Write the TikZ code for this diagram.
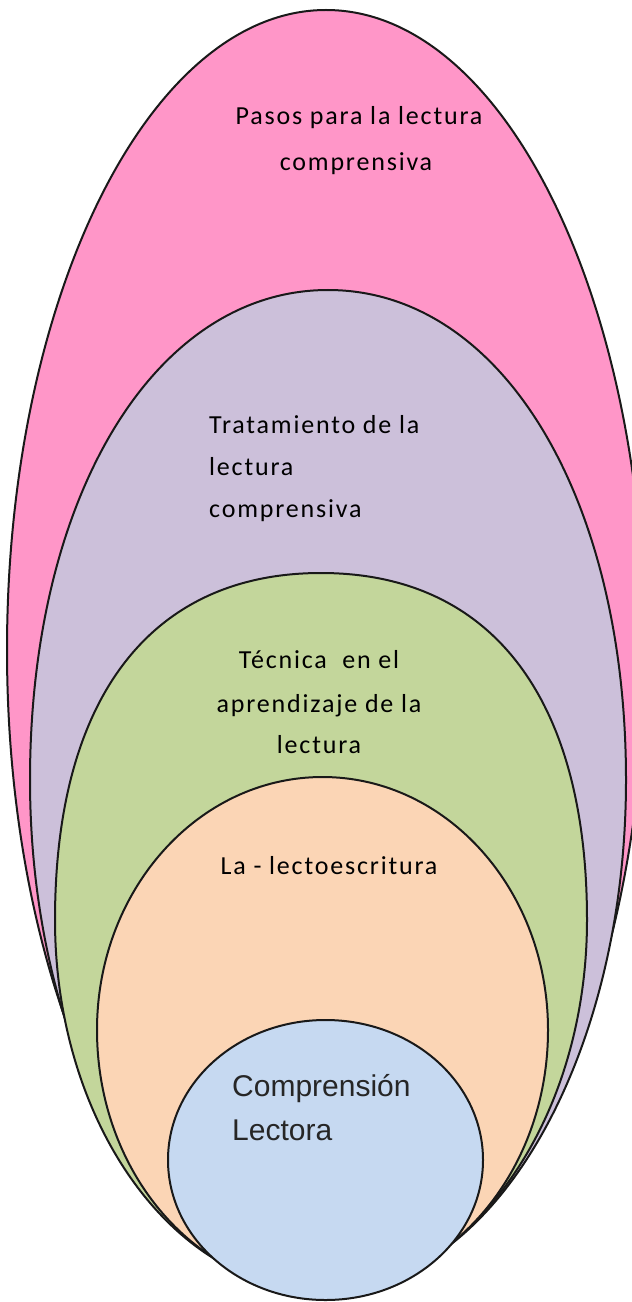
\documentclass[tikz,border=0pt]{standalone}
\usepackage{fontspec}
\newfontfamily\calib[LetterSpace=7]{Carlito}
\newfontfamily\arialf{Liberation Sans}
\definecolor{cpink}{RGB}{255,150,200}
\definecolor{cpurple}{RGB}{204,192,218}
\definecolor{cgreen}{RGB}{195,214,155}
\definecolor{cpeach}{RGB}{251,213,181}
\definecolor{cblue}{RGB}{198,217,241}
% #1 fill, #2 cx, #3 rx, #4 top y, #5 widest y, #6 bottom y, #7 top fullness, #8 bottom fullness
\newcommand\drawegg[8]{%
  \path[eggline, fill=#1] ({#2-#3},#5)
    .. controls ({#2-#3},{#5-#7*(#5-#4)}) and ({#2-#7*#3},#4) .. (#2,#4)
    .. controls ({#2+#7*#3},#4) and ({#2+#3},{#5-#7*(#5-#4)}) .. ({#2+#3},#5)
    .. controls ({#2+#3},{#5+#8*(#6-#5)}) and ({#2+#8*#3},#6) .. (#2,#6)
    .. controls ({#2-#8*#3},#6) and ({#2-#3},{#5+#8*(#6-#5)}) .. ({#2-#3},#5) -- cycle;}
\begin{document}
\begin{tikzpicture}[x=1bp,y=-1bp,
  eggline/.style={draw=black!90, line width=2bp},
  lab/.style={inner sep=0pt, font=\calib\fontsize{26bp}{30bp}\selectfont, text=black},
  labb/.style={inner sep=0pt, font=\arialf\fontsize{30bp}{34bp}\selectfont, text=black!85}]
\useasboundingbox (0,0) rectangle (632,1302);
\clip (0,0) rectangle (632,1302);
\drawegg{cpink}{326}{319}{10}{650}{1290}{0.5523}{0.5523}
\drawegg{cpurple}{328}{298}{290}{780}{1290}{0.58}{0.55}
\drawegg{cgreen}{321}{266}{573}{920}{1290}{0.64}{0.55}
\drawegg{cpeach}{322.5}{225.5}{777}{1030}{1290}{0.5523}{0.5523}
\path[eggline, fill=cblue] (325.5,1160) ellipse [x radius=157.5bp, y radius=140bp];
% labels
\node[lab, anchor=base] (p1) at (359,125) {Pasos para la lectura};
\node[lab, anchor=base] (p2) at (356,171) {comprensiva};
\node[lab, anchor=base west] (t1) at (209,433) {Tratamiento de la};
\node[lab, anchor=base west] (t2) at (209,475) {lectura};
\node[lab, anchor=base west] (t3) at (209,517) {comprensiva};
\node[lab, anchor=base] (g1) at (319,668) {Técnica\ \ en el};
\node[lab, anchor=base] (g2) at (319,712) {aprendizaje de la};
\node[lab, anchor=base] (g3) at (319,753) {lectura};
\node[lab, anchor=base] (l1) at (329,874) {La - lectoescritura};
\node[labb, anchor=base west] (c1) at (232,1096) {Comprensión};
\node[labb, anchor=base west] (c2) at (232,1140) {Lectora};
\end{tikzpicture}
\end{document}
